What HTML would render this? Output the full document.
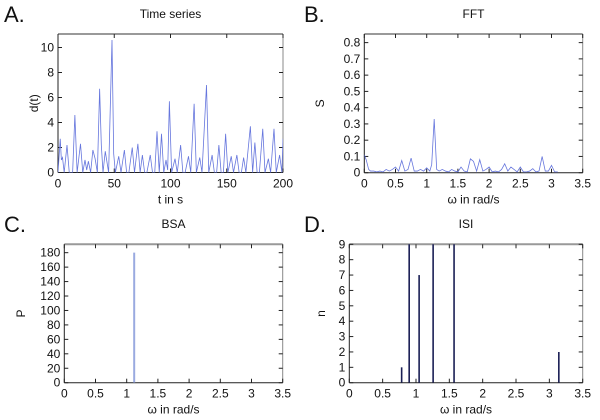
<!DOCTYPE html>
<html><head><meta charset="utf-8"><style>
html,body{margin:0;padding:0;background:#fff}
svg{display:block;font-family:"Liberation Sans",sans-serif}
</style></head><body>
<svg id="c" width="600" height="420" viewBox="0 0 600 420"></svg>
<script>
// Panel A data: time series points (t, d)
const tsT = [0,2,3,4,5.5,8,10,13,15,17,20,22,24,25.5,27,29,31,33,35,37,38.5,40,42,45,48,49.5,51,54,56,59,61,63,66,68,71,73,75,77,79,82,84,86,88,90,92,94,96,97.5,99,101,104,106,109,111,113,116,118,121,123,126,128,132,134,137,139,141,143,145,147,149,151,154,156,159,161,163,165,167,171,173,175,177,179,182,184,187,189,192,194,197,199,200];
const tsD = [0,2.7,1.0,1.2,0,2.2,0,0,4.6,0,2.3,0,1.0,0.2,0.9,0,1.8,1.1,0,6.7,2.2,0,1.7,0,10.6,1.5,0,1.3,0,1.8,0,0,2.0,0,2.3,0,1.4,0,0,1.4,0,0,3.3,0,3.1,0,1.0,0.2,5.7,0,1.1,0,2.2,0,0,1.3,0,5.5,0,1.2,0,7.0,0,1.4,0,0,2.2,0,0,3.1,0,1.3,0,1.4,0,0,1.2,0,3.7,0,2.4,0,0,3.5,0,1.1,0,3.5,0,1.4,0,2.7];
// Panel B data: FFT
const fftW = [0,0.03,0.07,0.1,0.15,0.2,0.25,0.3,0.35,0.4,0.45,0.5,0.55,0.6,0.65,0.7,0.75,0.8,0.85,0.9,0.95,1.0,1.05,1.08,1.12,1.16,1.2,1.25,1.3,1.35,1.4,1.45,1.5,1.55,1.6,1.65,1.7,1.75,1.8,1.85,1.9,1.95,2.0,2.05,2.1,2.15,2.2,2.25,2.3,2.35,2.4,2.45,2.5,2.55,2.6,2.65,2.7,2.75,2.8,2.85,2.9,2.95,3.0,3.05,3.1];
const fftS = [0.11,0.08,0.02,0.01,0.01,0.005,0.01,0.005,0.02,0.01,0.02,0.035,0.01,0.075,0.01,0.02,0.09,0.01,0.01,0.02,0.01,0.03,0.01,0.05,0.33,0.02,0.01,0.02,0.01,0.005,0.02,0.01,0.005,0.035,0.01,0.005,0.085,0.07,0.01,0.08,0.01,0.02,0.035,0.005,0.01,0.005,0.02,0.055,0.01,0.035,0.02,0.005,0.035,0.005,0.005,0.01,0.025,0.005,0.01,0.1,0.01,0.01,0.045,0.005,0.005];
// Panel C data: BSA
const bsaW = [1.12];
const bsaP = [180];
// Panel D data: ISI histogram
const isiW = [0.785,0.898,1.047,1.257,1.571,3.142];
const isiN = [1,12,7,12,12,2];

const NS="http://www.w3.org/2000/svg";
const svg=document.getElementById('c');
function el(tag,attrs,parent){const e=document.createElementNS(NS,tag);for(const k in attrs)e.setAttribute(k,attrs[k]);(parent||svg).appendChild(e);return e;}
function txt(s,x,y,size,anchor,parent,rot){const t=el('text',{x:x,y:y,'font-size':size,'text-anchor':anchor||'middle',fill:'#111'},parent);if(rot)t.setAttribute('transform',`rotate(-90 ${x} ${y})`);t.textContent=s;return t;}

function panel(o){
  const g=el('g',{});
  
  
  const sx=v=>o.x0+(v-o.xmin)/(o.xmax-o.xmin)*(o.x1-o.x0);
  const sy=v=>o.y0-(v-o.ymin)/(o.ymax-o.ymin)*(o.y0-o.y1);
  const lab=txt(o.letter,o.lx,o.ly,22,'start',g);
  
  
  const tt=txt(o.title,(o.x0+o.x1)/2,o.ly-4,12,'middle',g);
  
  
  el('line',{x1:o.x0,y1:o.y1,x2:o.x1,y2:o.y1,stroke:'#999','stroke-width':2},g);
  el('line',{x1:o.x1,y1:o.y1,x2:o.x1,y2:o.y0,stroke:'#888','stroke-width':1},g);
  el('line',{x1:o.x0,y1:o.y1,x2:o.x0,y2:o.y0,stroke:'#222','stroke-width':1},g);
  el('line',{x1:o.x0,y1:o.y0,x2:o.x1,y2:o.y0,stroke:'#222','stroke-width':1},g);
  o.xt.forEach(v=>{const X=sx(v);
    el('line',{x1:X,y1:o.y0,x2:X,y2:o.y0-4,stroke:'#222'},g);
    el('line',{x1:X,y1:o.y1,x2:X,y2:o.y1+4,stroke:'#222'},g);
    const t=txt(String(v),X,o.y0+15,12,'middle',g);
    
    });
  o.yt.forEach(v=>{const Y=sy(v);
    el('line',{x1:o.x0,y1:Y,x2:o.x0+4,y2:Y,stroke:'#222'},g);
    el('line',{x1:o.x1,y1:Y,x2:o.x1-4,y2:Y,stroke:'#222'},g);
    const t=txt(String(v),o.x0-4,Y+4,12,'end',g);
    
    });
  const xl=txt(o.xlab,(o.x0+o.x1)/2,o.y0+31,12,'middle',g);
  
  
  const yl=txt(o.ylab,o.ylx,(o.y0+o.y1)/2,12,'middle',g,true);
  
  
  const cid='clip'+o.letter[0];
  const cp=el('clipPath',{id:cid},g);
  el('rect',{x:o.x0,y:o.y1,width:o.x1-o.x0,height:o.y0-o.y1},cp);
  const pg=el('g',{'clip-path':`url(#${cid})`},g);
  return {g:pg,sx,sy};
}

// A
let p=panel({name:'panel-a-time-series',letter:'A.',lx:4,ly:22,title:'Time series',x0:58,x1:283,y0:172.5,y1:34,xmin:0,xmax:200,ymin:0,ymax:11.08,xt:[0,50,100,150,200],yt:[0,2,4,6,8,10],xlab:'t in s',ylab:'d(t)',ylx:38});
let ln=el('polyline',{fill:'none',stroke:'#6676dd','stroke-width':0.8,points:tsT.map((t,i)=>p.sx(t)+','+p.sy(tsD[i])).join(' ')},p.g);


// B
p=panel({name:'panel-b-fft',letter:'B.',lx:304,ly:22,title:'FFT',x0:364.3,x1:582.7,y0:172.7,y1:34,xmin:0,xmax:3.5,ymin:0,ymax:0.853,xt:[0,0.5,1,1.5,2,2.5,3,3.5],yt:[0,0.1,0.2,0.3,0.4,0.5,0.6,0.7,0.8],xlab:'ω in rad/s',ylab:'S',ylx:324});
ln=el('polyline',{fill:'none',stroke:'#6676dd','stroke-width':0.8,points:fftW.map((w,i)=>p.sx(w)+','+p.sy(fftS[i])).join(' ')},p.g);


// C
p=panel({name:'panel-c-bsa',letter:'C.',lx:4,ly:232,title:'BSA',x0:64.3,x1:282.7,y0:382.7,y1:244.3,xmin:0,xmax:3.5,ymin:0,ymax:191.6,xt:[0,0.5,1,1.5,2,2.5,3,3.5],yt:[0,20,40,60,80,100,120,140,160,180],xlab:'ω in rad/s',ylab:'P',ylx:25});
bsaW.forEach((w,i)=>{const b=el('line',{x1:p.sx(w),x2:p.sx(w),y1:p.sy(0),y2:p.sy(bsaP[i]),stroke:'#9aaae0','stroke-width':2},p.g);
  
  });
// D
p=panel({name:'panel-d-isi',letter:'D.',lx:304,ly:232,title:'ISI',x0:349.3,x1:582.7,y0:382.7,y1:244.3,xmin:0,xmax:3.5,ymin:0,ymax:9,xt:[0,0.5,1,1.5,2,2.5,3,3.5],yt:[0,1,2,3,4,5,6,7,8,9],xlab:'ω in rad/s',ylab:'n',ylx:325});
isiW.forEach((w,i)=>{const b=el('line',{x1:p.sx(w),x2:p.sx(w),y1:p.sy(0),y2:p.sy(isiN[i]),stroke:'#1a1f55','stroke-width':1.6},p.g);
  
  });
</script>
</body></html>
